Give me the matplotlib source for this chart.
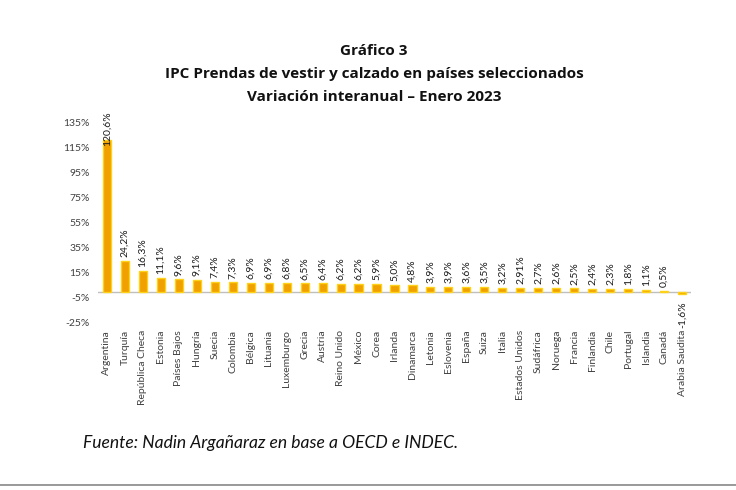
"""Gráfico 3: IPC prendas de vestir y calzado, variación interanual enero 2023."""

import matplotlib

matplotlib.use("Agg")
import matplotlib.pyplot as plt
from matplotlib.lines import Line2D

PAISES = [
    "Argentina", "Turquía", "República Checa", "Estonia", "Países Bajos",
    "Hungría", "Suecia", "Colombia", "Bélgica", "Lituania", "Luxemburgo",
    "Grecia", "Austria", "Reino Unido", "México", "Corea", "Irlanda",
    "Dinamarca", "Letonia", "Eslovenia", "España", "Suiza", "Italia",
    "Estados Unidos", "Sudáfrica", "Noruega", "Francia", "Finlandia",
    "Chile", "Portugal", "Islandia", "Canadá", "Arabia Saudita",
]
VARIACION = [
    120.6, 24.2, 16.3, 11.1, 9.6, 9.1, 7.4, 7.3, 6.9, 6.9, 6.8,
    6.5, 6.4, 6.2, 6.2, 5.9, 5.0, 4.8, 3.9, 3.9, 3.6, 3.5, 3.2,
    2.91, 2.7, 2.6, 2.5, 2.4, 2.3, 1.8, 1.1, 0.5, -1.6,
]
Y_TICKS = [-25, -5, 15, 35, 55, 75, 95, 115, 135]

FONT = "Lato"
TITLE_FONT = "Open Sans"
TXT = "#404040"


def fmt(v):
    s = f"{v:.2f}" if v == 2.91 else f"{v:.1f}"
    return s.replace(".", ",") + "%"


fig = plt.figure(figsize=(7.36, 4.9), dpi=100)
ax = fig.add_axes([0.133, 0.341, 0.806, 0.410])

x = range(len(PAISES))
ax.bar(x, VARIACION, width=0.45, color="#F0A000", edgecolor="#FFD21A",
       linewidth=1.0, zorder=3)
ax.axhline(0, color="#BFBFBF", linewidth=1.0, zorder=2)

for i, v in enumerate(VARIACION):
    if i == 0:
        ax.text(i, v - 5, fmt(v), rotation=90, ha="center", va="bottom",
                fontsize=7.5, family=FONT, color="#1a1a1a", zorder=4)
    elif v >= 0:
        ax.text(i, v + 3, fmt(v), rotation=90, ha="center", va="bottom",
                fontsize=7.5, family=FONT, color="#1a1a1a", zorder=4)
    else:
        ax.text(i, v - 6, fmt(v), rotation=90, ha="center", va="top",
                fontsize=7.5, family=FONT, color="#1a1a1a", zorder=4)

ax.set_xlim(-0.5, len(PAISES) - 0.5)
ax.set_ylim(-25, 135)
ax.set_yticks(Y_TICKS)
ax.set_yticklabels([f"{t}%" for t in Y_TICKS], fontsize=7.5, family=FONT,
                   color=TXT)
ax.set_xticks(list(x))
ax.set_xticklabels(PAISES, rotation=90, fontsize=7.5, family=FONT,
                   color=TXT, va="top", ha="center")
for s in ax.spines.values():
    s.set_visible(False)
ax.tick_params(length=0, pad=6)
ax.tick_params(axis="x", pad=5)

for y, line in [(0.895, "Gráfico 3"),
                (0.848, "IPC Prendas de vestir y calzado en países seleccionados"),
                (0.802, "Variación interanual – Enero 2023")]:
    fig.text(0.508, y, line, ha="center", va="center", fontsize=11,
             fontweight="bold", family=TITLE_FONT, color="#111111")

fig.text(0.113, 0.096, "Fuente: Nadin Argañaraz en base a OECD e INDEC.",
         ha="left", va="center", fontsize=12.6, style="italic", family=FONT,
         color="#111111")
fig.add_artist(Line2D([0, 1], [0.01, 0.01], color="#888888", linewidth=1.2,
                      transform=fig.transFigure))

fig.savefig("out.png", dpi=100, facecolor="white")
